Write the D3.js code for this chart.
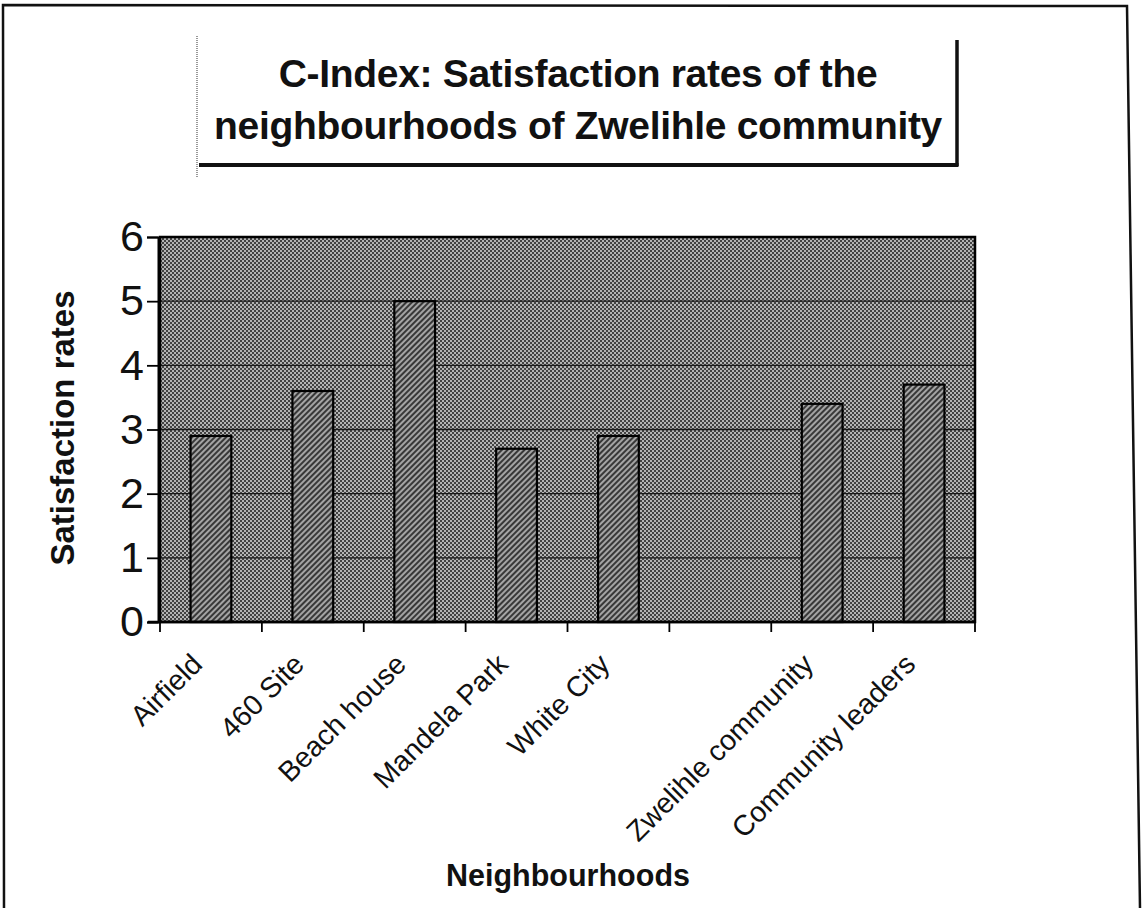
<!DOCTYPE html>
<html>
<head>
<meta charset="utf-8">
<script src="https://cdn.jsdelivr.net/npm/d3@7/dist/d3.min.js"></script>
<style>
  html, body { margin: 0; padding: 0; background: #fff; }
  svg { display: block; }
  text { font-family: "Liberation Sans", Arial, sans-serif; fill: #111; }
</style>
</head>
<body>
<svg id="chart" width="1144" height="908"></svg>
<script>
const categories = ["Airfield", "460 Site", "Beach house", "Mandela Park", "White City", " ", "Zwelihle community", "Community leaders"];
const values = [2.9, 3.6, 5.0, 2.7, 2.9, null, 3.4, 3.7];
const yTicks = [0, 1, 2, 3, 4, 5, 6];
const titleLines = ["C-Index: Satisfaction rates of the", "neighbourhoods of Zwelihle community"];
const xTitle = "Neighbourhoods";
const yTitle = "Satisfaction rates";

const svg = d3.select("#chart");
const defs = svg.append("defs");

// checker background pattern
const chk = defs.append("pattern").attr("id", "checker").attr("patternUnits", "userSpaceOnUse")
  .attr("width", 4).attr("height", 4);
chk.append("rect").attr("width", 4).attr("height", 4).attr("fill", "#b4b4b4");
chk.append("rect").attr("x", 0).attr("y", 0).attr("width", 2).attr("height", 2).attr("fill", "#424242");
chk.append("rect").attr("x", 2).attr("y", 2).attr("width", 2).attr("height", 2).attr("fill", "#424242");

// diagonal hatch pattern for bars
const hatch = defs.append("pattern").attr("id", "hatch").attr("patternUnits", "userSpaceOnUse")
  .attr("width", 4).attr("height", 4).attr("patternTransform", "rotate(45)");
hatch.append("rect").attr("width", 4).attr("height", 4).attr("fill", "#a4a4a4");
hatch.append("rect").attr("width", 2).attr("height", 4).attr("fill", "#383838");

// outer border (scanned page frame)
svg.append("path")
  .attr("d", "M4,908 L3,5 L1127,6 L1140,908")
  .attr("fill", "none").attr("stroke", "#111").attr("stroke-width", 2.5);

// title box
const tb = {x: 197, y: 36, w: 760, h: 128};
svg.append("line").attr("x1", tb.x).attr("y1", tb.y).attr("x2", tb.x).attr("y2", tb.y + tb.h + 14)
  .attr("stroke", "#555").attr("stroke-width", 1.2).attr("stroke-dasharray", "1,1");
svg.append("line").attr("x1", tb.x + tb.w).attr("y1", tb.y + 4).attr("x2", tb.x + tb.w).attr("y2", tb.y + tb.h + 2)
  .attr("stroke", "#111").attr("stroke-width", 3.5);
svg.append("line").attr("x1", tb.x + 2).attr("y1", tb.y + tb.h + 1).attr("x2", tb.x + tb.w + 1.5).attr("y2", tb.y + tb.h + 1)
  .attr("stroke", "#111").attr("stroke-width", 4);

svg.selectAll("text.title").data(titleLines).enter().append("text")
  .attr("class", "title")
  .attr("x", 578).attr("y", (d, i) => 87 + i * 52)
  .attr("text-anchor", "middle")
  .attr("font-weight", "bold").attr("font-size", 39)
  .attr("letter-spacing", -0.3)
  .text(d => d);

// plot
const plot = {x0: 160, x1: 975, y0: 237, y1: 622};
const x = d3.scaleBand().domain(categories).range([plot.x0, plot.x1]).padding(0);
const y = d3.scaleLinear().domain([0, 6]).range([plot.y1, plot.y0]);

svg.append("rect").attr("x", plot.x0).attr("y", plot.y0)
  .attr("width", plot.x1 - plot.x0).attr("height", plot.y1 - plot.y0)
  .attr("fill", "url(#checker)");

// gridlines
svg.append("g").selectAll("line").data(yTicks.filter(t => t > 0 && t < 6)).enter().append("line")
  .attr("x1", plot.x0).attr("x2", plot.x1)
  .attr("y1", d => y(d)).attr("y2", d => y(d))
  .attr("stroke", "#1a1a1a").attr("stroke-width", 1.3);

// bars
const barW = x.bandwidth() * 0.4;
const data = categories.map((c, i) => ({c, v: values[i]})).filter(d => d.v != null);
svg.append("g").selectAll("rect").data(data).enter().append("rect")
  .attr("x", d => x(d.c) + (x.bandwidth() - barW) / 2)
  .attr("y", d => y(d.v))
  .attr("width", barW)
  .attr("height", d => y(0) - y(d.v))
  .attr("fill", "url(#hatch)")
  .attr("stroke", "#000").attr("stroke-width", 2.2);

// plot border
svg.append("rect").attr("x", plot.x0).attr("y", plot.y0)
  .attr("width", plot.x1 - plot.x0).attr("height", plot.y1 - plot.y0)
  .attr("fill", "none").attr("stroke", "#000").attr("stroke-width", 2.5);

// y axis
const yAxis = d3.axisLeft(y).tickValues(yTicks).tickSize(11).tickPadding(3).tickFormat(d3.format("d"));
const gy = svg.append("g").attr("transform", `translate(${plot.x0 - 2},0)`).call(yAxis);
gy.select(".domain").attr("stroke", "#000").attr("stroke-width", 2);
gy.selectAll(".tick line").attr("stroke", "#000").attr("stroke-width", 1.8);
gy.selectAll(".tick text").attr("font-size", 43).attr("fill", "#111")
  .attr("font-family", "Liberation Sans, Arial, sans-serif");

// x axis
const gx = svg.append("g").attr("transform", `translate(0,${plot.y1})`);
gx.append("line").attr("x1", plot.x0 - 12).attr("x2", plot.x1).attr("y1", 0).attr("y2", 0)
  .attr("stroke", "#000").attr("stroke-width", 2.5);
const bounds = categories.map(c => x(c)).concat([plot.x1]);
gx.selectAll("line.tk").data(bounds).enter().append("line").attr("class", "tk")
  .attr("x1", d => d).attr("x2", d => d).attr("y1", 0).attr("y2", 10)
  .attr("stroke", "#000").attr("stroke-width", 1.8);
gx.selectAll("text.lbl").data(categories).enter().append("text").attr("class", "lbl")
  .attr("transform", d => `translate(${x(d) + x.bandwidth() / 2 - 7},${44}) rotate(-45)`)
  .attr("text-anchor", "end")
  .attr("font-size", 28.5)
  .text(d => d);

// axis titles
svg.append("text").attr("x", 568).attr("y", 886).attr("text-anchor", "middle")
  .attr("font-weight", "bold").attr("font-size", 30.5).text(xTitle);
svg.append("text").attr("transform", "translate(74,428) rotate(-90)").attr("text-anchor", "middle")
  .attr("font-weight", "bold").attr("font-size", 33).text(yTitle);
</script>
</body>
</html>
